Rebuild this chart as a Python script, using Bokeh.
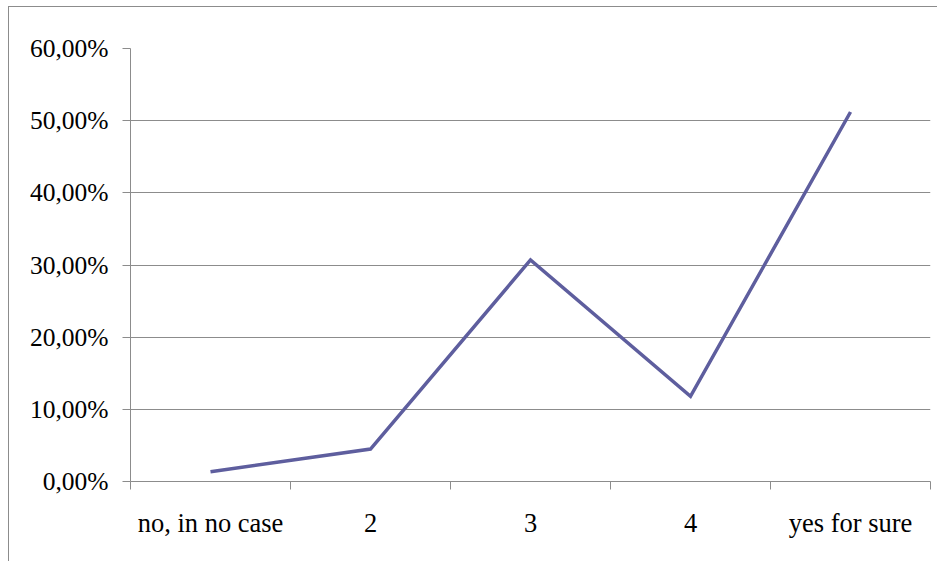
from bokeh.plotting import figure
from bokeh.models import FixedTicker, Range1d
from bokeh.embed import file_html
from bokeh.resources import INLINE

# Survey answers and share of respondents (percent)
categories = ["no, in no case", "2", "3", "4", "yes for sure"]
shares = [1.35, 4.5, 30.7, 11.8, 51.2]

y_ticks = [0, 10, 20, 30, 40, 50, 60]
y_tick_labels = ["0,00%", "10,00%", "20,00%", "30,00%", "40,00%", "50,00%", "60,00%"]

# categories sit in the middle of unit-wide slots
x_pos = [i + 0.5 for i in range(len(categories))]
slot_edges = list(range(len(categories) + 1))

FONT = "'Liberation Serif', 'Times New Roman', serif"
GRID = "#8c8c8c"

p = figure(width=929, height=555, output_backend="svg", toolbar_location=None,
           x_range=Range1d(0, len(categories)), y_range=Range1d(0, 60),
           min_border_left=121, min_border_right=8,
           min_border_top=41, min_border_bottom=81)
p.styles = {"margin-left": "8px", "margin-top": "6px",
            "border-left": f"1px solid {GRID}", "border-top": f"1px solid {GRID}"}
p.outline_line_color = None
p.background_fill_color = "white"

p.line(x_pos, shares, line_color="#5E5E9E", line_width=3.5, line_join="miter")

# y axis: percentage labels with comma decimals
p.yaxis.ticker = FixedTicker(ticks=y_ticks, minor_ticks=[])
p.yaxis.major_label_overrides = {t: lab for t, lab in zip(y_ticks, y_tick_labels)}
p.yaxis.axis_line_color = GRID
p.yaxis.major_tick_line_color = GRID
p.yaxis.major_tick_out = 8
p.yaxis.major_tick_in = 0
p.yaxis.major_label_standoff = 14
p.yaxis.major_label_text_font = FONT
p.yaxis.major_label_text_font_size = "25.5px"
p.yaxis.major_label_text_color = "black"

# x axis: labels centred in slots, tick marks on slot edges
p.xaxis.ticker = FixedTicker(ticks=x_pos, minor_ticks=slot_edges)
p.xaxis.major_label_overrides = {x: c for x, c in zip(x_pos, categories)}
p.xaxis.axis_line_color = GRID
p.xaxis.major_tick_line_color = None
p.xaxis.major_tick_out = 0
p.xaxis.major_tick_in = 0
p.xaxis.minor_tick_line_color = GRID
p.xaxis.minor_tick_out = 8
p.xaxis.minor_tick_in = 0
p.xaxis.major_label_standoff = 18
p.xaxis.major_label_text_font = FONT
p.xaxis.major_label_text_font_size = "26.5px"
p.xaxis.major_label_text_color = "black"

p.xgrid.grid_line_color = None
p.ygrid.ticker = FixedTicker(ticks=y_ticks)
p.ygrid.grid_line_color = GRID
p.ygrid.grid_line_width = 1

open("out.html", "w").write(file_html(p, INLINE))
